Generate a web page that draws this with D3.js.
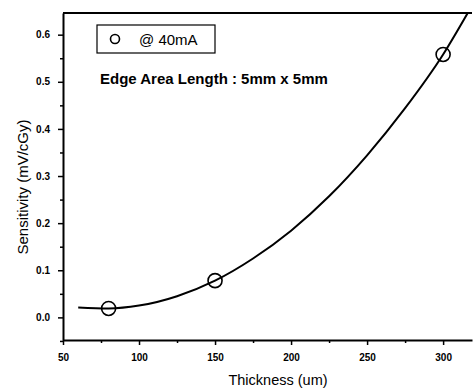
<!DOCTYPE html>
<html>
<head>
<meta charset="utf-8">
<script src="https://cdn.jsdelivr.net/npm/d3@7"></script>
<style>
  body { margin: 0; background: #fff; }
  text { font-family: "Liberation Sans", Arial, sans-serif; fill: #000; }
</style>
</head>
<body>
<div id="chart-area"></div>
<script>
// measured points
var thickness = [80, 150, 300];
var sensitivity = [0.019, 0.078, 0.558];

// fit curve
var fitX = [60, 80, 100, 125, 150, 175, 200, 225, 250, 275, 300, 316];
var fitY = [0.021, 0.019, 0.025, 0.045, 0.078, 0.125, 0.184, 0.257, 0.344, 0.444, 0.558, 0.645];

var xTicks = [50, 100, 150, 200, 250, 300];
var xMinor = [75, 125, 175, 225, 275];
var yTicks = [0.0, 0.1, 0.2, 0.3, 0.4, 0.5, 0.6];
var yMinor = [-0.05, 0.05, 0.15, 0.25, 0.35, 0.45, 0.55];

var legendLabel = "@ 40mA";
var note = "Edge Area Length : 5mm x 5mm";

var W = 476, H = 389;
var svg = d3.select("#chart-area").append("svg")
    .attr("width", W)
    .attr("height", H);

var x = d3.scaleLinear().domain([50, 319]).range([63, 472]);
var y = d3.scaleLinear().domain([-0.048, 0.646]).range([340, 13]);

svg.append("clipPath").attr("id", "clip")
    .append("rect")
    .attr("x", 63).attr("y", 13)
    .attr("width", 472 - 63).attr("height", 340 - 13);

// curve
var line = d3.line()
    .x(function(d) { return x(d[0]); })
    .y(function(d) { return y(d[1]); })
    .curve(d3.curveMonotoneX);

svg.append("path")
    .attr("clip-path", "url(#clip)")
    .attr("fill", "none")
    .attr("stroke", "#000")
    .attr("stroke-width", 2)
    .attr("d", line(d3.zip(fitX, fitY)));

svg.selectAll(".pt")
    .data(d3.zip(thickness, sensitivity))
    .enter().append("circle")
    .attr("class", "pt")
    .attr("cx", function(d) { return x(d[0]); })
    .attr("cy", function(d) { return y(d[1]); })
    .attr("r", 7)
    .attr("fill", "none")
    .attr("stroke", "#000")
    .attr("stroke-width", 1.6);

// axes
var xAxis = svg.append("g")
    .attr("transform", "translate(0,340)")
    .call(d3.axisBottom(x).tickValues(xTicks).tickSize(5).tickSizeOuter(0)
        .tickFormat(d3.format("d")));
xAxis.selectAll("text")
    .attr("font-size", 10).attr("font-weight", "bold")
    .attr("y", 14).attr("dy", "0.71em");

svg.append("g")
    .attr("transform", "translate(0,340)")
    .call(d3.axisBottom(x).tickValues(xMinor).tickSize(3).tickFormat(""))
    .select(".domain").remove();

var yAxis = svg.append("g")
    .attr("transform", "translate(63,0)")
    .call(d3.axisLeft(y).tickValues(yTicks).tickSize(5).tickSizeOuter(0)
        .tickFormat(d3.format(".1f")));
yAxis.selectAll("text")
    .attr("font-size", 10).attr("font-weight", "bold").attr("x", -13);

svg.append("g")
    .attr("transform", "translate(63,0)")
    .call(d3.axisLeft(y).tickValues(yMinor).tickSize(3).tickFormat(""))
    .select(".domain").remove();

svg.selectAll(".domain").attr("stroke-width", 2);
svg.selectAll(".tick line").attr("stroke-width", 1.5);

// top frame
svg.append("line")
    .attr("x1", 63).attr("x2", 472)
    .attr("y1", 13).attr("y2", 13)
    .attr("stroke", "#000").attr("stroke-width", 2);

// axis titles
svg.append("text")
    .attr("x", 278).attr("y", 385)
    .attr("text-anchor", "middle")
    .attr("font-size", 14.5)
    .text("Thickness (um)");

svg.append("text")
    .attr("transform", "translate(28,187) rotate(-90)")
    .attr("text-anchor", "middle")
    .attr("font-size", 15)
    .text("Sensitivity (mV/cGy)");

// legend
svg.append("rect")
    .attr("x", 97).attr("y", 25)
    .attr("width", 118).attr("height", 28)
    .attr("fill", "none")
    .attr("stroke", "#000")
    .attr("stroke-width", 1.2);

svg.append("circle")
    .attr("cx", 115).attr("cy", 39).attr("r", 4.5)
    .attr("fill", "none").attr("stroke", "#000").attr("stroke-width", 1.6);

svg.append("text")
    .attr("x", 139).attr("y", 45)
    .attr("font-size", 15)
    .text(legendLabel);

svg.append("text")
    .attr("x", 100).attr("y", 84)
    .attr("font-size", 15)
    .attr("font-weight", "bold")
    .text(note);
</script>
</body>
</html>
